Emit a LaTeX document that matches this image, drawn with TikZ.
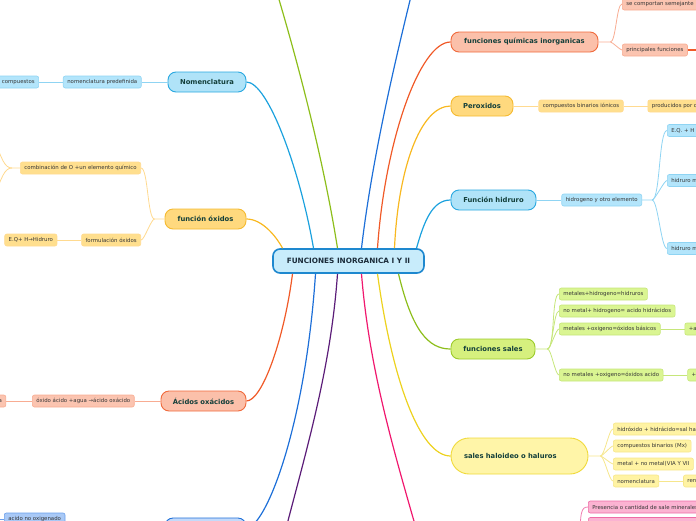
\documentclass[tikz,border=0pt]{standalone}
\usepackage{fontspec}
\setmainfont{DejaVu Sans}
\usepackage{tikz}
\usetikzlibrary{positioning, calc}
\usepackage{xcolor}

\definecolor{roottext}{HTML}{1B2C3A}
\definecolor{topictext}{HTML}{133F3A}
\definecolor{leaftext}{HTML}{363636}
\definecolor{rootfill}{HTML}{C8ECFB}
\definecolor{rootdraw}{HTML}{1E88CF}
\definecolor{skyfill}{HTML}{B0E3F8}
\definecolor{skydraw}{HTML}{29A8E0}
\definecolor{skyline}{HTML}{1BA1DE}
\definecolor{skyleaf}{HTML}{B3E5FB}
\definecolor{skytwig}{HTML}{8FD4F3}
\definecolor{goldfill}{HTML}{FFD97E}
\definecolor{golddraw}{HTML}{F5BA30}
\definecolor{goldline}{HTML}{F8B820}
\definecolor{goldleaf}{HTML}{FFDF8E}
\definecolor{goldtwig}{HTML}{FFDA90}
\definecolor{salmonfill}{HTML}{FBC0AA}
\definecolor{salmondraw}{HTML}{F06A3C}
\definecolor{salmonline}{HTML}{F05A28}
\definecolor{salmonleaf}{HTML}{FBC4B0}
\definecolor{salmontwig}{HTML}{F8AC92}
\definecolor{limefill}{HTML}{D6F07E}
\definecolor{limedraw}{HTML}{9CCB2A}
\definecolor{limeline}{HTML}{8DBE1B}
\definecolor{limeleaf}{HTML}{DAF592}
\definecolor{limetwig}{HTML}{C6E67A}
\definecolor{lemonfill}{HTML}{FFF5A8}
\definecolor{lemondraw}{HTML}{F0DA3A}
\definecolor{lemonline}{HTML}{EDD21F}
\definecolor{lemonleaf}{HTML}{FFF3A3}
\definecolor{lemontwig}{HTML}{F6E68C}
\definecolor{pinkleaf}{HTML}{FBB3D2}
\definecolor{pinkdraw}{HTML}{EE6BA6}
\definecolor{pinkline}{HTML}{F0186E}
\definecolor{pinktwig}{HTML}{F07DB0}
\definecolor{navyfill}{HTML}{C4DAFA}
\definecolor{navydraw}{HTML}{1D6FD8}
\definecolor{navyleaf}{HTML}{A9C9F6}
\definecolor{navyline}{HTML}{1D6FD8}
\definecolor{navytwig}{HTML}{6A9FEB}
\definecolor{plumline}{HTML}{5B1C78}

\tikzstyle{branch} = [line width=1.2pt]
\tikzstyle{twig} = [line width=0.8pt]

\begin{document}
\begin{tikzpicture}[x=1pt, y=-1pt, every node/.style={font=\fontsize{5.4}{6.2}\selectfont, align=center}]
    % Styles for the mind map
    \tikzset{
        topic/.style={rectangle, rounded corners=8pt, line width=0.9pt, minimum height=20pt, inner xsep=6pt, text=topictext, font=\fontsize{6.8}{8}\selectfont\bfseries},
        leaf/.style={rectangle, rounded corners=2pt, line width=0.6pt, minimum height=12pt, inner xsep=4pt, inner ysep=1pt, text=leaftext},
        root_box/.style={rectangle, rounded corners=7pt, line width=1.6pt, fill=rootfill, draw=rootdraw, minimum width=151pt, minimum height=24pt, text=roottext, font=\fontsize{7.3}{8.5}\selectfont\bfseries},
        sky_topic/.style={topic, fill=skyfill, draw=skydraw},
        sky_leaf/.style={leaf, fill=skyleaf, draw=skytwig},
        gold_topic/.style={topic, fill=goldfill, draw=golddraw},
        gold_leaf/.style={leaf, fill=goldleaf, draw=goldtwig},
        salmon_topic/.style={topic, fill=salmonfill, draw=salmondraw},
        salmon_leaf/.style={leaf, fill=salmonleaf, draw=salmontwig},
        lime_topic/.style={topic, fill=limefill, draw=limedraw},
        lime_leaf/.style={leaf, fill=limeleaf, draw=limetwig},
        lemon_topic/.style={topic, fill=lemonfill, draw=lemondraw},
        lemon_leaf/.style={leaf, fill=lemonleaf, draw=lemontwig},
        pink_leaf/.style={leaf, fill=pinkleaf, draw=pinkdraw},
        navy_topic/.style={topic, fill=navyfill, draw=navydraw},
        navy_leaf/.style={leaf, fill=navyleaf, draw=navytwig}
    }
    \clip (0,0) rectangle (696,520);

    % central topic
    \node (root) [root_box] at (348.5,261) {FUNCIONES INORGANICA I Y II};

    % --- LEFT SIDE ---
    \node (nom) [sky_topic, minimum width=78pt] at (207,82) {Nomenclatura};
    \node (nompre) [sky_leaf, left=26pt of nom] {nomenclatura predefinida};
    \node (nomcom) [sky_leaf, left=24pt of nompre] {de compuestos};

    \node (oxi) [gold_topic, minimum width=81pt] at (205.5,219) {función óxidos};
    \node (comb) [gold_leaf, anchor=east] at (141,168) {combinación de O +un elemento químico};
    \node (form) [gold_leaf, anchor=east] at (141,240) {formulación óxidos};
    \node (eqh) [gold_leaf, left=24pt of form] {E.Q+ H→Hidruro};

    \node (acid) [salmon_topic, minimum width=85pt] at (203.5,401) {Ácidos oxácidos};
    \node (oxag) [salmon_leaf, left=26pt of acid] {óxido ácido +agua →ácido oxácido};
    \node (oxa) [salmon_leaf, left=26pt of oxag] {a};

    \node (lowtopic) [navy_topic, minimum width=81pt] at (205.5,528) {};
    \node (acno) [navy_leaf, anchor=west] at (4,519) {acido no oxigenado};

    % --- RIGHT SIDE ---
    \node (fqi) [salmon_topic, minimum width=147pt] at (524.5,42) {funciones químicas inorganicas};
    \node (semej) [salmon_leaf, anchor=west] at (622,4) {se comportan semejante};
    \node (princ) [salmon_leaf, anchor=west] at (622,50) {principales funciones};

    \node (per) [gold_topic, minimum width=62pt] at (482,106) {Peroxidos};
    \node (binio) [gold_leaf, right=25pt of per] {compuestos binarios iónicos};
    \node (prod) [gold_leaf, right=24pt of binio] {producidos por o};

    \node (hid) [sky_topic, minimum width=85pt] at (493.5,200) {Función hidruro};
    \node (hidel) [sky_leaf, right=25pt of hid] {hidrogeno y otro elemento};
    \node (eqhb) [sky_leaf, anchor=west] at (667,130.5) {E.Q. + H};
    \node (hidma) [sky_leaf, anchor=west] at (667,180.5) {hidruro m};
    \node (hidmb) [sky_leaf, anchor=west] at (667,248.5) {hidruro m};

    \node (sal) [lime_topic, minimum width=84pt] at (493,349) {funciones sales};
    \node (sa) [lime_leaf, anchor=west] at (559,294) {metales+hidrogeno=hidruros};
    \node (sb) [lime_leaf, anchor=west] at (559,311) {no metal+ hidrogeno= acido hidrácidos};
    \node (sc) [lime_leaf, anchor=west] at (559,329) {metales +oxigeno=óxidos básicos};
    \node (sd) [lime_leaf, anchor=west] at (559,375) {no metales +oxigeno=óxidos acido};
    \node (sca) [lime_leaf, right=24pt of sc] {+a};
    \node (sda) [lime_leaf, right=24pt of sd] {+};

    \node (hal) [lemon_topic, text width=111pt, align=left, inner xsep=13pt, minimum height=36pt, rounded corners=18pt] at (519.5,456) {sales haloideo o haluros};
    \node (ha) [lemon_leaf, anchor=west] at (613,429) {hidróxido + hidrácido=sal ha};
    \node (hb) [lemon_leaf, anchor=west] at (613,446) {compuestos binarios (Mx)};
    \node (hc) [lemon_leaf, anchor=west] at (613,464) {metal + no metal(VIA Y VII};
    \node (hd) [lemon_leaf, anchor=west] at (613,481) {nomenclatura};
    \node (hda) [lemon_leaf, right=24pt of hd] {ren};

    \node (pres) [pink_leaf, anchor=west] at (588,507) {Presencia o cantidad de sale minerales};
    \node (presb) [pink_leaf, anchor=west, minimum width=120pt] at (588,523.5) {};

    % free ends outside the frame
    \coordinate (upgreen) at (267,-40);
    \coordinate (upblue) at (420,-40);
    \coordinate (downplum) at (278,560);
    \coordinate (downpink) at (425,560);
    \coordinate (pinkhub) at (580,545);
    \coordinate (combup) at (-6,140);
    \coordinate (combdown) at (-6,196);
    \coordinate (acnoout) at (-8,519);
    \coordinate (princout) at (705,50);

    % Branches from the central topic
    \draw[branch, skyline] ([xshift=-35pt]root.north) .. controls (300,170) and (268,82) .. (nom.east);
    \draw[branch, goldline] ([xshift=-66pt]root.north) .. controls (276,236) and (262,219) .. (oxi.east);
    \draw[branch, limeline] ([xshift=-11pt]root.north) .. controls (322,150) and (292,40) .. (upgreen);
    \draw[branch, navyline] ([xshift=13pt]root.north) .. controls (373,150) and (400,40) .. (upblue);
    \draw[branch, salmonline] ([xshift=29pt]root.north) .. controls (385,140) and (420,42) .. (fqi.west);
    \draw[branch, goldline] ([xshift=46pt]root.north) .. controls (398,170) and (420,106) .. (per.west);
    \draw[branch, skyline] ([xshift=68pt]root.north) .. controls (424,222) and (432,200) .. (hid.west);
    \draw[branch, salmonline] ([xshift=-56pt]root.south) .. controls (284,340) and (262,401) .. (acid.east);
    \draw[branch, navyline] ([xshift=-33pt]root.south) .. controls (305,430) and (265,528) .. (lowtopic.east);
    \draw[branch, plumline] ([xshift=-11pt]root.south) .. controls (330,380) and (300,470) .. (downplum);
    \draw[branch, pinkline] ([xshift=13pt]root.south) .. controls (370,380) and (400,470) .. (downpink);
    \draw[branch, lemonline] ([xshift=29pt]root.south) .. controls (392,380) and (420,456) .. (hal.west);
    \draw[branch, limeline] ([xshift=50pt]root.south) .. controls (412,330) and (428,349) .. (sal.west);

    % Twigs left
    \draw[twig, skytwig] (nompre.east) -- (nom.west);
    \draw[twig, skytwig] (nomcom.east) -- (nompre.west);
    \coordinate (oxisplit) at ([xshift=-10pt]oxi.west);
    \draw[twig, goldtwig] (oxi.west) -- (oxisplit) to[out=180, in=0, looseness=0.35] (comb.east);
    \draw[twig, goldtwig] (oxisplit) to[out=180, in=0, looseness=0.35] (form.east);
    \draw[twig, goldtwig] (form.west) -- (eqh.east);
    \coordinate (combsplit) at ([xshift=-8pt]comb.west);
    \draw[twig, goldtwig] (comb.west) -- (combsplit) .. controls (4,168) and (2,158) .. (combup);
    \draw[twig, goldtwig] (combsplit) .. controls (4,168) and (2,178) .. (combdown);
    \draw[twig, salmontwig] (acid.west) -- (oxag.east);
    \draw[twig, salmontwig] (oxag.west) -- (oxa.east);
    \draw[twig, navytwig] (acno.west) -- (acnoout);

    % Twigs right
    \coordinate (fqisplit) at ([xshift=12pt]fqi.east);
    \draw[twig, salmontwig] (fqi.east) -- (fqisplit) to[out=0, in=180, looseness=0.35] (semej.west);
    \draw[twig, salmontwig] (fqisplit) to[out=0, in=180, looseness=0.35] (princ.west);
    \draw[branch, salmonline] (princ.east) -- (princout);
    \draw[twig, goldtwig] (per.east) -- (binio.west);
    \draw[twig, goldtwig] (binio.east) -- (prod.west);
    \draw[twig, skytwig] (hid.east) -- (hidel.west);
    \coordinate (hidsplit) at ([xshift=10pt]hidel.east);
    \draw[twig, skytwig] (hidel.east) -- (hidsplit) to[out=0, in=180, looseness=0.3] (eqhb.west);
    \draw[twig, skytwig] (hidsplit) to[out=0, in=180, looseness=0.3] (hidma.west);
    \draw[twig, skytwig] (hidsplit) to[out=0, in=180, looseness=0.3] (hidmb.west);
    \coordinate (salsplit) at ([xshift=12pt]sal.east);
    \draw[twig, limetwig] (sal.east) -- (salsplit) to[out=0, in=180, looseness=0.35] (sa.west);
    \draw[twig, limetwig] (salsplit) to[out=0, in=180, looseness=0.35] (sb.west);
    \draw[twig, limetwig] (salsplit) to[out=0, in=180, looseness=0.35] (sc.west);
    \draw[twig, limetwig] (salsplit) to[out=0, in=180, looseness=0.35] (sd.west);
    \draw[twig, limetwig] (sc.east) -- (sca.west);
    \draw[twig, limetwig] (sd.east) -- (sda.west);
    \coordinate (halsplit) at ([xshift=12pt]hal.east);
    \draw[twig, lemontwig] (hal.east) -- (halsplit) to[out=0, in=180, looseness=0.35] (ha.west);
    \draw[twig, lemontwig] (halsplit) to[out=0, in=180, looseness=0.35] (hb.west);
    \draw[twig, lemontwig] (halsplit) to[out=0, in=180, looseness=0.35] (hc.west);
    \draw[twig, lemontwig] (halsplit) to[out=0, in=180, looseness=0.35] (hd.west);
    \draw[twig, lemontwig] (hd.east) -- (hda.west);
    \draw[twig, pinktwig] (pinkhub) .. controls (580,512) and (581,507) .. (pres.west);
    \draw[twig, pinktwig] (pinkhub) .. controls (580,528) and (582,523.5) .. (presb.west);

\end{tikzpicture}
\end{document}
